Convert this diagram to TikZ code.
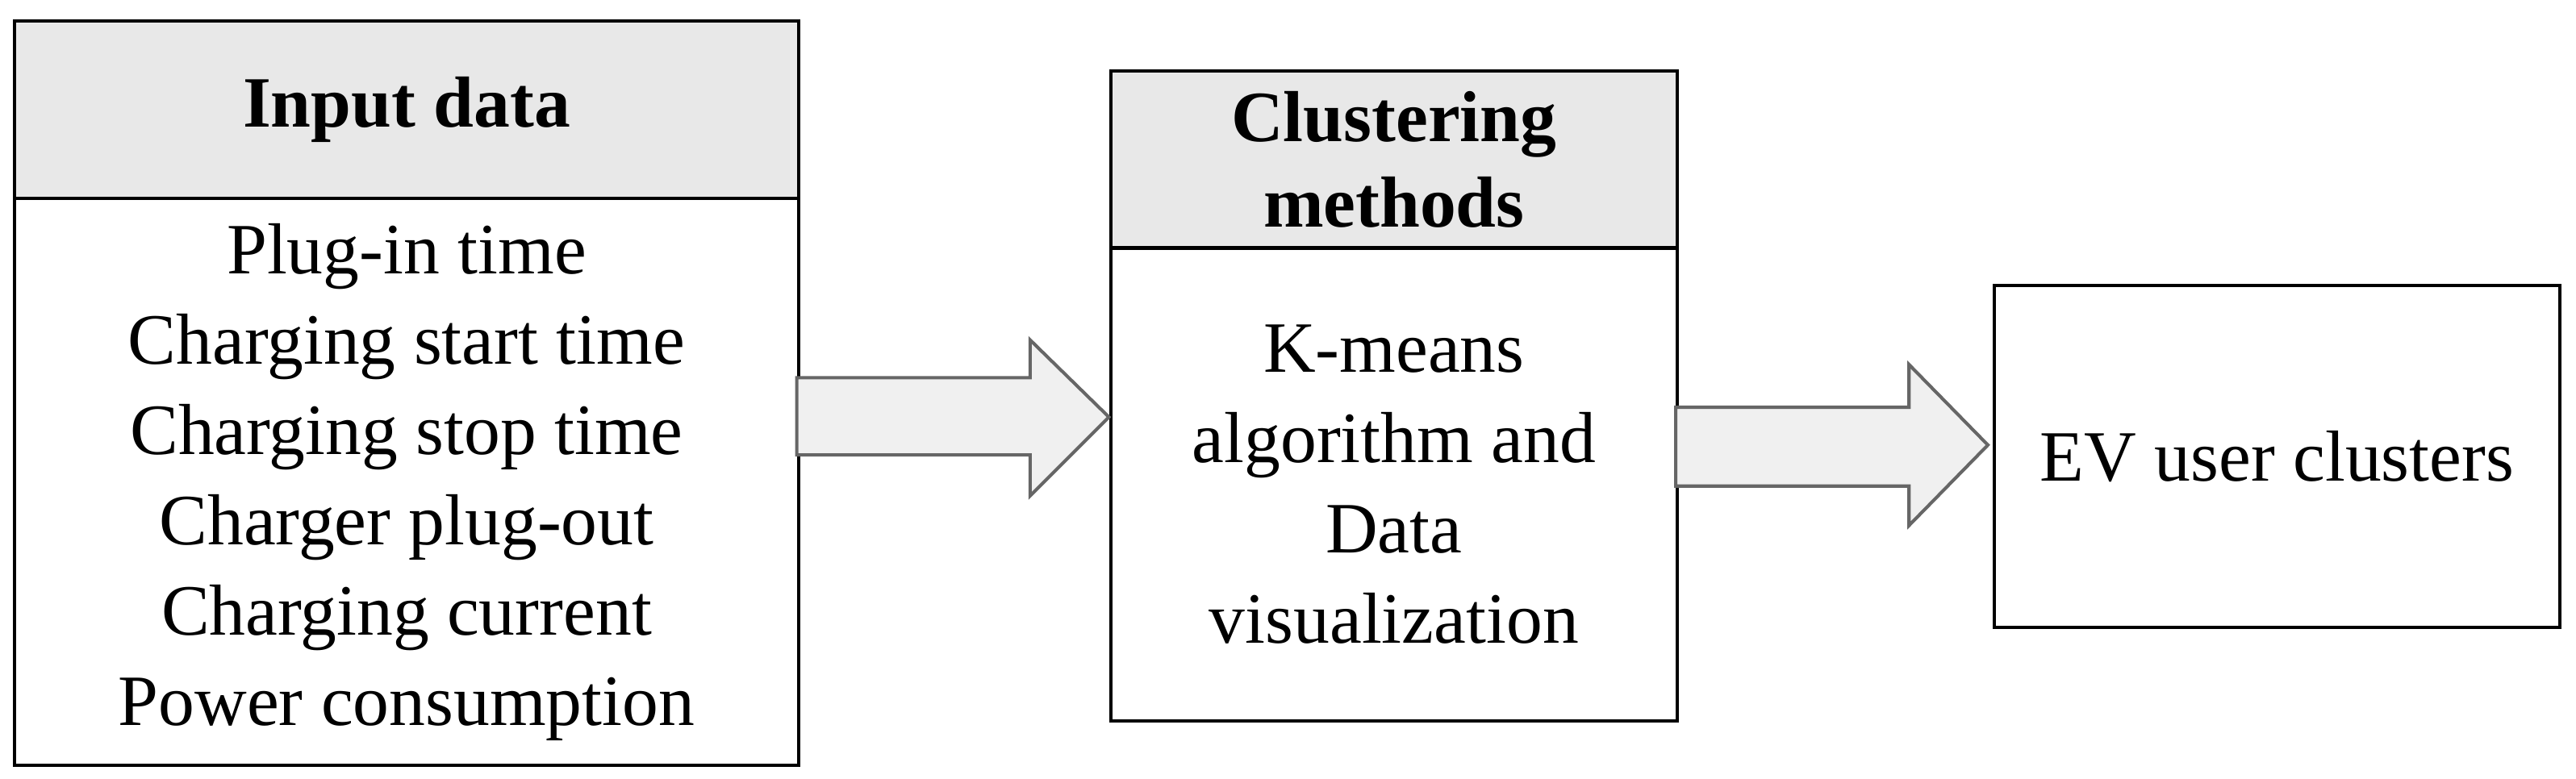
\documentclass[tikz,border=0pt]{standalone}
\usepackage{fontspec}
\setmainfont{Liberation Serif}
\usetikzlibrary{calc}
\usetikzlibrary{positioning}
\begin{document}
\begin{tikzpicture}[x=0.5pt,y=-0.5pt,
  box/.style={draw,line width=1pt,anchor=north west,inner sep=0pt},
  head/.style={box,fill=gray!18,font=\bfseries\fontsize{22}{26}\selectfont,align=center},
  body/.style={box,font=\fontsize{22}{27.5}\selectfont,align=center},
  bigarrow/.style={draw=gray!80!black,fill=gray!12,line width=1pt}]
\useasboundingbox (0,0) rectangle (1568,474);

% input data
\node[head,minimum width=238.5pt,minimum height=54pt] (inhead) at (8,12) {Input data};
\node[body,minimum width=238.5pt,minimum height=172.5pt] (inbody) at (8,120) {Plug-in time\\Charging start time\\Charging stop time\\Charger plug-out\\Charging current\\Power consumption};

% clustering
\node[head,minimum width=172.5pt,minimum height=54pt] (clhead) at (675,42) {Clustering\\methods};
\node[body,minimum width=172.5pt,minimum height=144pt] (clbody) at (675,150) {K-means\\algorithm and\\Data\\visualization};

% result
\node[body,minimum width=172pt,minimum height=104pt] (res) at (1213,173) {EV user clusters};

% arrows
\draw[bigarrow] (485,230) -- (627,230) -- (627,207) -- (675,254) -- (627,302) -- (627,277) -- (485,277) -- cycle;
\draw[bigarrow] (1020,248) -- (1162,248) -- (1162,222) -- (1210,271) -- (1162,320) -- (1162,296) -- (1020,296) -- cycle;
\end{tikzpicture}
\end{document}
